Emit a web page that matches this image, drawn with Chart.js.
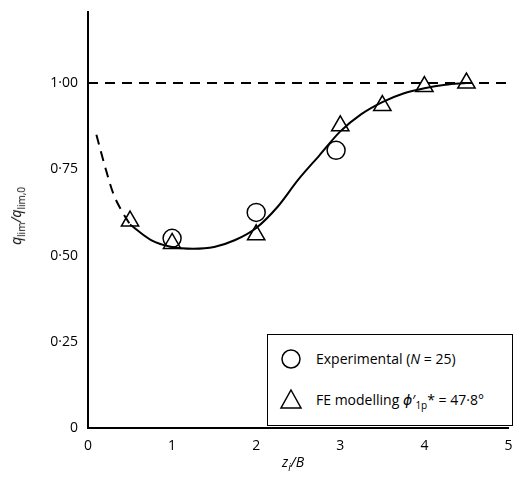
<!DOCTYPE html>
<html><head><meta charset="utf-8">
<script src="https://cdn.jsdelivr.net/npm/chart.js@4"></script>
<style>
body{margin:0;background:#fff;font-family:"Open Sans",sans-serif;}
#wrap{position:relative;width:520px;height:497px;}
.lbl{position:absolute;font-size:14px;color:#000;white-space:nowrap;}
#leg{position:absolute;left:267px;top:334px;width:244px;height:90px;border:1px solid #000;background:#fff;font-size:14px;}
</style></head><body>
<div id="wrap"><canvas id="c" width="520" height="497"></canvas>
<div class="lbl" style="left:282px;top:452px;font-style:italic">z<sub style="font-size:10px">i</sub>/B</div>
<div class="lbl" style="left:-28px;top:205px;width:90px;text-align:center;transform:rotate(-90deg);font-style:italic">q<sub style="font-size:10px;font-style:normal">lim</sub>/q<sub style="font-size:10px;font-style:normal">lim,0</sub></div>
<div id="leg">
<div class="lbl" style="left:48px;top:14px">Experimental (<i>N</i> = 25)</div>
<div class="lbl" style="left:48px;top:55px">FE modelling <i style="font-family:'DejaVu Sans';color:#000">ϕ</i>′<sub style="font-size:10px">1p</sub>* = 47·8°</div>
<canvas id="lc" width="40" height="90" style="position:absolute;left:0;top:0"></canvas>
</div>
</div>
<script>
const expX=[1,2,2.95], expY=[0.55,0.625,0.805];
const feX=[0.5,1,2,3,3.5,4,4.5], feY=[0.60,0.535,0.56,0.876,0.935,0.99,1.0];
const fitX=[0.5,0.75,1,1.25,1.5,1.75,2,2.25,2.5,2.75,3,3.25,3.5,3.75,4,4.25,4.5];
const fitY=[0.59,0.545,0.525,0.52,0.525,0.545,0.58,0.64,0.72,0.79,0.86,0.91,0.945,0.97,0.985,0.995,1.0];
const extX=[0.1,0.2,0.3,0.4,0.5], extY=[0.85,0.76,0.68,0.63,0.59];
const refX=[0,5], refY=[1,1];
const xTicks=[0,1,2,3,4,5], yTicks=[0,0.25,0.5,0.75,1];
const pts=(xs,ys)=>xs.map((x,i)=>({x,y:ys[i]}));
new Chart(document.getElementById('c'),{type:'scatter',
data:{datasets:[
{data:pts(refX,refY),showLine:true,borderColor:'#000',borderWidth:2,borderDash:[10,7],pointRadius:0},
{data:pts(extX,extY),showLine:true,borderColor:'#000',borderWidth:2,borderDash:[10,7],pointRadius:0,cubicInterpolationMode:'monotone'},
{data:pts(fitX,fitY),showLine:true,borderColor:'#000',borderWidth:2,pointRadius:0,cubicInterpolationMode:'monotone'},
{data:pts(expX,expY),pointStyle:'circle',pointRadius:9,pointBorderWidth:1.5,pointBorderColor:'#000',pointBackgroundColor:'rgba(255,255,255,0)'},
{data:pts(feX,feY),pointStyle:'triangle',pointRadius:10,pointBorderWidth:1.5,pointBorderColor:'#000',pointBackgroundColor:'rgba(255,255,255,0)'}
]},
options:{responsive:false,animation:false,layout:{padding:{top:0,right:0,left:0,bottom:0}},
plugins:{legend:{display:false},tooltip:{enabled:false}},
scales:{
x:{type:'linear',min:0,max:5,afterFit:a=>{a.height=69;},afterBuildTicks:a=>{a.ticks=xTicks.map(v=>({value:v}));},
grid:{display:false,drawTicks:true,tickLength:6},border:{color:'#000',width:2},
ticks:{color:'#000',font:{family:'Open Sans',size:14},padding:4}},
y:{min:0,max:1.205,afterFit:a=>{a.width=88;},afterBuildTicks:a=>{a.ticks=yTicks.map(v=>({value:v}));},
grid:{display:false,tickLength:6},border:{color:'#000',width:2},
ticks:{color:'#000',font:{family:'Open Sans',size:14},padding:4,callback:v=>v===0?'0':v.toFixed(2).replace('.','·')}}
}}});
const g=document.getElementById('lc').getContext('2d');
g.lineWidth=1.5;g.strokeStyle='#000';
g.beginPath();g.arc(23,24,9,0,Math.PI*2);g.stroke();
g.beginPath();g.moveTo(23,55);g.lineTo(33,73);g.lineTo(13,73);g.closePath();g.stroke();
</script></body></html>
